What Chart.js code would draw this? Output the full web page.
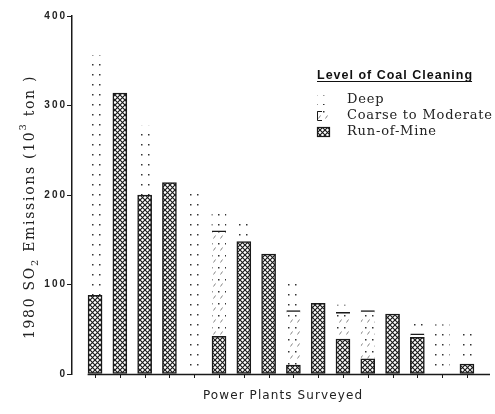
<!DOCTYPE html>
<html>
<head>
<meta charset="utf-8">
<script src="https://cdn.jsdelivr.net/npm/chart.js@4.4.1/dist/chart.umd.min.js"></script>
<style>
  html, body { margin: 0; padding: 0; background: #fff; }
  #wrap { width: 495px; height: 414px; }
</style>
</head>
<body>
<div id="wrap"><canvas id="c" width="495" height="414"></canvas></div>
<script>
// Plants in survey order, with 1980 SO2 emissions (10^3 ton) split by cleaning level
const plants = [1, 2, 3, 4, 5, 6, 7, 8, 9, 10, 11, 12, 13, 14, 15, 16];
const runOfMine        = [88, 314, 200, 214, 0, 42, 148, 134, 10, 79, 39, 17, 67, 41, 0, 11];
const coarseToModerate = [0, 0, 0, 0, 0, 118, 0, 0, 61, 0, 30, 54, 0, 4, 0, 0];
const deep             = [268, 0, 77, 0, 205, 22, 21, 0, 33, 0, 8, 0, 0, 12, 55, 40];
const yTickValues = [0, 100, 200, 300, 400];
const seriesNames = ['Deep', 'Coarse to Moderate', 'Run-of-Mine'];
const legendTitle = 'Level of Coal Cleaning';
const xTitle = 'Power Plants Surveyed';

const INK = '#1a1a1a';

function tile(w, h, paint) {
  const c = document.createElement('canvas');
  c.width = w; c.height = h;
  const g = c.getContext('2d');
  g.fillStyle = '#fff';
  g.fillRect(0, 0, w, h);
  paint(g);
  return g.createPattern(c, 'repeat');
}

// diagonal cross-hatch for run-of-mine coal
const hatch = tile(5, 5, g => {
  g.strokeStyle = INK;
  g.lineWidth = 1.15;
  g.beginPath();
  g.moveTo(-1, -1); g.lineTo(6, 6);
  g.moveTo(6, -1); g.lineTo(-1, 6);
  g.stroke();
});

// sparse dots for deep cleaning
const dots = tile(7, 10, g => {
  g.fillStyle = '#333';
  g.fillRect(1, 4, 1.5, 1.5);
});

// dots with short strokes for coarse-to-moderate cleaning
const dotsDash = tile(7, 12, g => {
  g.fillStyle = '#333';
  g.fillRect(1, 3, 1.5, 1.5);
  g.strokeStyle = '#777';
  g.lineWidth = 0.9;
  g.beginPath();
  g.moveTo(3.5, 10.5); g.lineTo(5.5, 7.5);
  g.stroke();
});

const asPoints = arr => plants.map((p, i) => ({ x: p, y: arr[i] > 0 ? arr[i] : null }));

const decor = {
  id: 'decor',
  beforeDraw(chart) {
    chart.ctx.letterSpacing = '2px';
  },
  afterDraw(chart) {
    const { ctx, chartArea, scales } = chart;
    const xs = scales.x;
    ctx.save();
    ctx.letterSpacing = '0px';

    // baseline with a short tick under each plant
    ctx.strokeStyle = INK;
    ctx.lineWidth = 1.5;
    ctx.beginPath();
    ctx.moveTo(xs.getPixelForValue(0.7), chartArea.bottom + 0.5);
    ctx.lineTo(chartArea.right, chartArea.bottom + 0.5);
    ctx.stroke();
    ctx.lineWidth = 1;
    ctx.beginPath();
    plants.forEach(p => {
      const px = Math.round(xs.getPixelForValue(p)) + 0.5;
      ctx.moveTo(px, chartArea.bottom);
      ctx.lineTo(px, chartArea.bottom + 4);
    });
    ctx.stroke();

    // x title
    ctx.fillStyle = '#222';
    ctx.font = '12px "DejaVu Sans"';
    ctx.letterSpacing = '1.1px';
    ctx.textAlign = 'center';
    ctx.textBaseline = 'middle';
    ctx.fillText(xTitle, 283, 396);

    // y title with subscript and superscript
    ctx.save();
    ctx.translate(30, 207);
    ctx.rotate(-Math.PI / 2);
    ctx.letterSpacing = '1.7px';
    ctx.textAlign = 'left';
    ctx.textBaseline = 'middle';
    const parts = [
      ['1980 SO', 0, 14], ['2', 5, 10], [' Emissions (10', 0, 14], ['3', -7, 10], [' ton )', 0, 14]
    ];
    let total = 0;
    parts.forEach(p => { ctx.font = p[2] + 'px "DejaVu Serif"'; total += ctx.measureText(p[0]).width; });
    let cx = -total / 2;
    parts.forEach(p => {
      ctx.font = p[2] + 'px "DejaVu Serif"';
      ctx.fillText(p[0], cx, p[1]);
      cx += ctx.measureText(p[0]).width;
    });
    ctx.restore();

    // legend
    const lx = 317;
    ctx.font = 'bold 12.5px "Liberation Sans"';
    ctx.letterSpacing = '1px';
    ctx.textAlign = 'left';
    ctx.textBaseline = 'alphabetic';
    ctx.fillStyle = '#111';
    ctx.fillText(legendTitle, lx, 79);
    const tw = ctx.measureText(legendTitle).width;
    ctx.strokeStyle = '#111';
    ctx.lineWidth = 1;
    ctx.beginPath();
    ctx.moveTo(lx, 81.5); ctx.lineTo(lx + tw - 1, 81.5);
    ctx.stroke();

    const fills = [dots, dotsDash, hatch];
    const rows = [100, 116, 132];
    ctx.font = '13px "DejaVu Serif"';
    ctx.letterSpacing = '0.8px';
    ctx.textBaseline = 'middle';
    seriesNames.forEach((name, i) => {
      const y = rows[i];
      ctx.fillStyle = fills[i];
      ctx.fillRect(lx, y - 5, 13, 10);
      ctx.strokeStyle = INK;
      if (i === 2) {
        ctx.lineWidth = 1.2;
        ctx.strokeRect(lx + 0.5, y - 4.5, 12, 9);
      } else if (i === 1) {
        ctx.lineWidth = 1;
        ctx.beginPath();
        ctx.moveTo(lx + 5, y - 4.5); ctx.lineTo(lx + 0.5, y - 4.5);
        ctx.lineTo(lx + 0.5, y + 4.5); ctx.lineTo(lx + 5, y + 4.5);
        ctx.stroke();
      }
      ctx.fillStyle = '#222';
      ctx.fillText(name, lx + 30, y);
    });
    ctx.restore();
  }
};

new Chart(document.getElementById('c'), {
  type: 'bar',
  data: {
    datasets: [
      {
        label: seriesNames[2],
        data: asPoints(runOfMine),
        backgroundColor: hatch,
        borderColor: INK,
        borderWidth: 1.5,
        borderSkipped: false
      },
      {
        label: seriesNames[1],
        data: asPoints(coarseToModerate),
        backgroundColor: dotsDash,
        borderColor: INK,
        borderWidth: { top: 1.6, left: 0, right: 0, bottom: 0 },
        borderSkipped: false
      },
      {
        label: seriesNames[0],
        data: asPoints(deep),
        backgroundColor: dots,
        borderWidth: 0
      }
    ]
  },
  options: {
    responsive: false,
    animation: false,
    devicePixelRatio: 1,
    barThickness: 14,
    layout: { padding: { top: 16, right: 5, bottom: 0, left: 0 } },
    plugins: { legend: { display: false }, tooltip: { enabled: false } },
    scales: {
      x: {
        type: 'linear',
        stacked: true,
        offset: false,
        min: 0.07,
        max: 16.93,
        afterFit: s => { s.height = 40; },
        border: { display: false },
        grid: { display: false },
        ticks: { display: false }
      },
      y: {
        stacked: true,
        min: 0,
        max: 400,
        afterFit: s => { s.width = 72; },
        afterBuildTicks: s => { s.ticks = yTickValues.map(v => ({ value: v })); },
        border: { display: true, color: INK, width: 1.5 },
        grid: { drawOnChartArea: false, drawTicks: true, tickLength: 5, color: INK, lineWidth: 1 },
        ticks: {
          color: '#222',
          padding: 0,
          font: { family: 'Liberation Sans', size: 10, weight: 'bold' }
        }
      }
    }
  },
  plugins: [decor]
});
</script>
</body>
</html>
